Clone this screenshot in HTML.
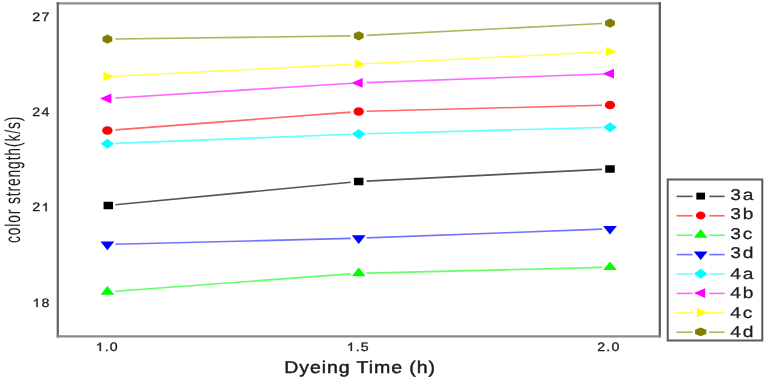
<!DOCTYPE html>
<html><head><meta charset="utf-8"><style>
html,body{margin:0;padding:0;background:#fff;}
body{width:766px;height:380px;overflow:hidden;}
svg{display:block;filter:blur(0.35px);}
text{font-family:"Liberation Sans",sans-serif;fill:#1c1c24;stroke:#1c1c24;stroke-width:0.25px;text-rendering:geometricPrecision;}
</style></head><body>
<svg width="766" height="380" viewBox="0 0 766 380">
<rect width="766" height="380" fill="#fff"/>
<g>
<line x1="56.6" y1="3.4" x2="660.9" y2="3.4" stroke="#8e8e8e" stroke-width="2.3"/>
<line x1="57.8" y1="2.3" x2="57.8" y2="337.5" stroke="#666" stroke-width="2.3"/>
<line x1="659.8" y1="2.3" x2="659.8" y2="337.5" stroke="#575757" stroke-width="2.2"/>
<line x1="56.6" y1="336.3" x2="660.9" y2="336.3" stroke="#8a8a8a" stroke-width="2.3"/>
</g>
<line x1="115.36" y1="204.74" x2="350.74" y2="182.26" stroke="#555555" stroke-width="1.6"/><line x1="366.69" y1="181.10" x2="602.01" y2="169.40" stroke="#555555" stroke-width="1.6"/><rect x="103.55" y="201.75" width="9.5" height="7.5" fill="#000000"/><rect x="353.95" y="177.75" width="9.5" height="7.5" fill="#000000"/><rect x="605.25" y="165.25" width="9.5" height="7.5" fill="#000000"/><line x1="115.38" y1="129.90" x2="350.72" y2="112.10" stroke="#ff6666" stroke-width="1.6"/><line x1="366.70" y1="111.29" x2="602.00" y2="105.21" stroke="#ff6666" stroke-width="1.6"/><ellipse cx="107.40" cy="130.50" rx="5.2" ry="4.3" fill="#ff0000"/><ellipse cx="358.70" cy="111.50" rx="5.2" ry="4.3" fill="#ff0000"/><ellipse cx="610.00" cy="105.00" rx="5.2" ry="4.3" fill="#ff0000"/><line x1="115.38" y1="291.21" x2="350.72" y2="273.89" stroke="#66ff66" stroke-width="1.6"/><line x1="366.70" y1="273.11" x2="602.00" y2="267.39" stroke="#66ff66" stroke-width="1.6"/><polygon points="107.40,286.00 114.30,294.70 100.50,294.70" fill="#00ff00"/><polygon points="358.70,267.50 365.60,276.20 351.80,276.20" fill="#00ff00"/><polygon points="610.00,261.40 616.90,270.10 603.10,270.10" fill="#00ff00"/><line x1="115.40" y1="244.30" x2="350.70" y2="238.40" stroke="#7373ff" stroke-width="1.6"/><line x1="366.69" y1="237.90" x2="602.01" y2="229.10" stroke="#7373ff" stroke-width="1.6"/><polygon points="107.40,250.30 114.30,241.60 100.50,241.60" fill="#0000ff"/><polygon points="358.70,244.00 365.60,235.30 351.80,235.30" fill="#0000ff"/><polygon points="610.00,234.60 616.90,225.90 603.10,225.90" fill="#0000ff"/><line x1="115.39" y1="143.39" x2="350.71" y2="134.31" stroke="#66ffff" stroke-width="1.6"/><line x1="366.70" y1="133.79" x2="602.00" y2="127.51" stroke="#66ffff" stroke-width="1.6"/><polygon points="107.40,138.70 114.20,143.70 107.40,148.70 100.60,143.70" fill="#00ffff"/><polygon points="358.70,129.00 365.50,134.00 358.70,139.00 351.90,134.00" fill="#00ffff"/><polygon points="610.00,122.30 616.80,127.30 610.00,132.30 603.20,127.30" fill="#00ffff"/><line x1="115.38" y1="98.00" x2="352.11" y2="83.31" stroke="#ff66ff" stroke-width="1.6"/><line x1="366.69" y1="82.61" x2="603.40" y2="73.94" stroke="#ff66ff" stroke-width="1.6"/><polygon points="100.00,98.50 111.40,93.60 111.40,103.40" fill="#ff00ff"/><polygon points="351.30,82.90 362.70,78.00 362.70,87.80" fill="#ff00ff"/><polygon points="602.60,73.70 614.00,68.80 614.00,78.60" fill="#ff00ff"/><line x1="113.39" y1="76.20" x2="350.71" y2="64.40" stroke="#ffff55" stroke-width="1.6"/><line x1="364.69" y1="63.70" x2="602.01" y2="51.99" stroke="#ffff55" stroke-width="1.6"/><polygon points="114.10,76.50 103.40,71.80 103.40,81.20" fill="#ffff00"/><polygon points="365.40,64.00 354.70,59.30 354.70,68.70" fill="#ffff00"/><polygon points="616.70,51.60 606.00,46.90 606.00,56.30" fill="#ffff00"/><line x1="115.40" y1="38.99" x2="350.70" y2="35.91" stroke="#b3b360" stroke-width="1.6"/><line x1="366.69" y1="35.40" x2="602.01" y2="23.50" stroke="#b3b360" stroke-width="1.6"/><polygon points="107.40,34.50 112.30,36.90 112.30,41.30 107.40,43.70 102.50,41.30 102.50,36.90" fill="#808000"/><polygon points="358.70,31.20 363.60,33.60 363.60,38.00 358.70,40.40 353.80,38.00 353.80,33.60" fill="#808000"/><polygon points="610.00,18.50 614.90,20.90 614.90,25.30 610.00,27.70 605.10,25.30 605.10,20.90" fill="#808000"/>
<rect x="667.7" y="179.5" width="94.6" height="161" fill="none" stroke="#5a5a5a" stroke-width="2"/>
<line x1="676.6" y1="196.40" x2="692.6" y2="196.40" stroke="#555555" stroke-width="1.6"/><line x1="709.3" y1="196.40" x2="724.6" y2="196.40" stroke="#555555" stroke-width="1.6"/><g transform="translate(700.7,196.10) scale(0.92)"><rect x="-4.75" y="-3.75" width="9.5" height="7.5" fill="#000000"/></g><text transform="translate(730.3,200.00) scale(1.23,1)" font-size="15.6" letter-spacing="1.4" style="stroke-width:0.25px">3a</text><line x1="676.6" y1="215.80" x2="692.6" y2="215.80" stroke="#ff6666" stroke-width="1.6"/><line x1="709.3" y1="215.80" x2="724.6" y2="215.80" stroke="#ff6666" stroke-width="1.6"/><g transform="translate(700.7,215.50) scale(0.92)"><ellipse cx="0.00" cy="0.00" rx="5.2" ry="4.3" fill="#ff0000"/></g><text transform="translate(730.3,219.40) scale(1.23,1)" font-size="15.6" letter-spacing="1.4" style="stroke-width:0.25px">3b</text><line x1="676.6" y1="235.20" x2="692.6" y2="235.20" stroke="#66ff66" stroke-width="1.6"/><line x1="709.3" y1="235.20" x2="724.6" y2="235.20" stroke="#66ff66" stroke-width="1.6"/><g transform="translate(700.7,234.90) scale(1.0)"><polygon points="0.00,-5.80 6.90,2.90 -6.90,2.90" fill="#00ff00"/></g><text transform="translate(730.3,238.80) scale(1.23,1)" font-size="15.6" letter-spacing="1.4" style="stroke-width:0.25px">3c</text><line x1="676.6" y1="254.60" x2="692.6" y2="254.60" stroke="#7373ff" stroke-width="1.6"/><line x1="709.3" y1="254.60" x2="724.6" y2="254.60" stroke="#7373ff" stroke-width="1.6"/><g transform="translate(700.7,254.30) scale(1.0)"><polygon points="0.00,5.80 6.90,-2.90 -6.90,-2.90" fill="#0000ff"/></g><text transform="translate(730.3,258.20) scale(1.23,1)" font-size="15.6" letter-spacing="1.4" style="stroke-width:0.25px">3d</text><line x1="676.6" y1="274.00" x2="692.6" y2="274.00" stroke="#66ffff" stroke-width="1.6"/><line x1="709.3" y1="274.00" x2="724.6" y2="274.00" stroke="#66ffff" stroke-width="1.6"/><g transform="translate(700.7,273.70) scale(1.0)"><polygon points="0.00,-5.00 6.80,0.00 0.00,5.00 -6.80,0.00" fill="#00ffff"/></g><text transform="translate(730.3,278.70) scale(1.23,1)" font-size="15.6" letter-spacing="1.4" style="stroke-width:0.25px">4a</text><line x1="676.6" y1="293.40" x2="692.6" y2="293.40" stroke="#ff66ff" stroke-width="1.6"/><line x1="709.3" y1="293.40" x2="724.6" y2="293.40" stroke="#ff66ff" stroke-width="1.6"/><g transform="translate(701.2,293.10) scale(1.0)"><polygon points="-7.40,0.00 4.00,-4.90 4.00,4.90" fill="#ff00ff"/></g><text transform="translate(730.3,298.10) scale(1.23,1)" font-size="15.6" letter-spacing="1.4" style="stroke-width:0.25px">4b</text><line x1="676.6" y1="312.80" x2="692.6" y2="312.80" stroke="#ffff55" stroke-width="1.6"/><line x1="706.0" y1="312.80" x2="724.6" y2="312.80" stroke="#ffff55" stroke-width="1.6"/><g transform="translate(700.8,312.50) scale(1.0)"><polygon points="6.70,0.00 -4.00,-4.70 -4.00,4.70" fill="#ffff00"/></g><text transform="translate(730.3,317.50) scale(1.23,1)" font-size="15.6" letter-spacing="1.4" style="stroke-width:0.25px">4c</text><line x1="676.6" y1="332.20" x2="692.6" y2="332.20" stroke="#b3b360" stroke-width="1.6"/><line x1="709.3" y1="332.20" x2="724.6" y2="332.20" stroke="#b3b360" stroke-width="1.6"/><g transform="translate(700.7,331.90) scale(1.15,0.97)"><polygon points="0.00,-4.60 4.90,-2.20 4.90,2.20 0.00,4.60 -4.90,2.20 -4.90,-2.20" fill="#808000"/></g><text transform="translate(730.3,336.90) scale(1.23,1)" font-size="15.6" letter-spacing="1.4" style="stroke-width:0.25px">4d</text>
<g transform="translate(50.50,21.20) scale(1.16,1)"><text text-anchor="end" font-size="12.3" letter-spacing="1.0" style="stroke-width:0.3px">27</text></g><g transform="translate(50.50,116.40) scale(1.16,1)"><text text-anchor="end" font-size="12.3" letter-spacing="1.0" style="stroke-width:0.3px">24</text></g><g transform="translate(50.50,211.30) scale(1.16,1)"><text text-anchor="end" font-size="12.3" letter-spacing="1.0" style="stroke-width:0.3px">2<tspan style="fill:none;stroke:none">1</tspan></text><polygon points="-3.26,0.00 -4.34,0.00 -4.34,-6.61 -6.50,-5.29 -6.50,-6.31 -5.02,-7.21 -4.00,-8.46 -3.26,-8.46" fill="#1c1c24" stroke="#1c1c24" stroke-width="0.3"/></g><g transform="translate(50.50,306.90) scale(1.16,1)"><text text-anchor="end" font-size="12.3" letter-spacing="1.0" style="stroke-width:0.3px"><tspan style="fill:none;stroke:none">1</tspan>8</text><polygon points="-11.10,0.00 -12.18,0.00 -12.18,-6.61 -14.34,-5.29 -14.34,-6.31 -12.86,-7.21 -11.84,-8.46 -11.10,-8.46" fill="#1c1c24" stroke="#1c1c24" stroke-width="0.3"/></g>
<g transform="translate(107.20,351.00) scale(1.16,1)"><text text-anchor="middle" font-size="12.2" letter-spacing="1.0" style="stroke-width:0.3px"><tspan style="fill:none;stroke:none">1</tspan>.0</text><polygon points="-5.43,0.00 -6.51,0.00 -6.51,-6.55 -8.65,-5.24 -8.65,-6.25 -7.18,-7.15 -6.17,-8.39 -5.43,-8.39" fill="#1c1c24" stroke="#1c1c24" stroke-width="0.3"/></g><g transform="translate(358.20,351.00) scale(1.16,1)"><text text-anchor="middle" font-size="12.2" letter-spacing="1.0" style="stroke-width:0.3px"><tspan style="fill:none;stroke:none">1</tspan>.5</text><polygon points="-5.43,0.00 -6.51,0.00 -6.51,-6.55 -8.65,-5.24 -8.65,-6.25 -7.18,-7.15 -6.17,-8.39 -5.43,-8.39" fill="#1c1c24" stroke="#1c1c24" stroke-width="0.3"/></g><g transform="translate(608.90,351.00) scale(1.16,1)"><text text-anchor="middle" font-size="12.2" letter-spacing="1.0" style="stroke-width:0.3px">2.0</text></g>
<text transform="translate(284.2,373.0) scale(1.15,1)" font-size="17" letter-spacing="0.8" style="stroke-width:0.45px">Dyeing Time (h)</text>
<text transform="translate(20.4,243.0) scale(1.35,1) rotate(-90) scale(0.88,1)" font-size="15.75" letter-spacing="0.97" style="stroke-width:0.05px">color strength(k/s)</text>
</svg>
</body></html>
